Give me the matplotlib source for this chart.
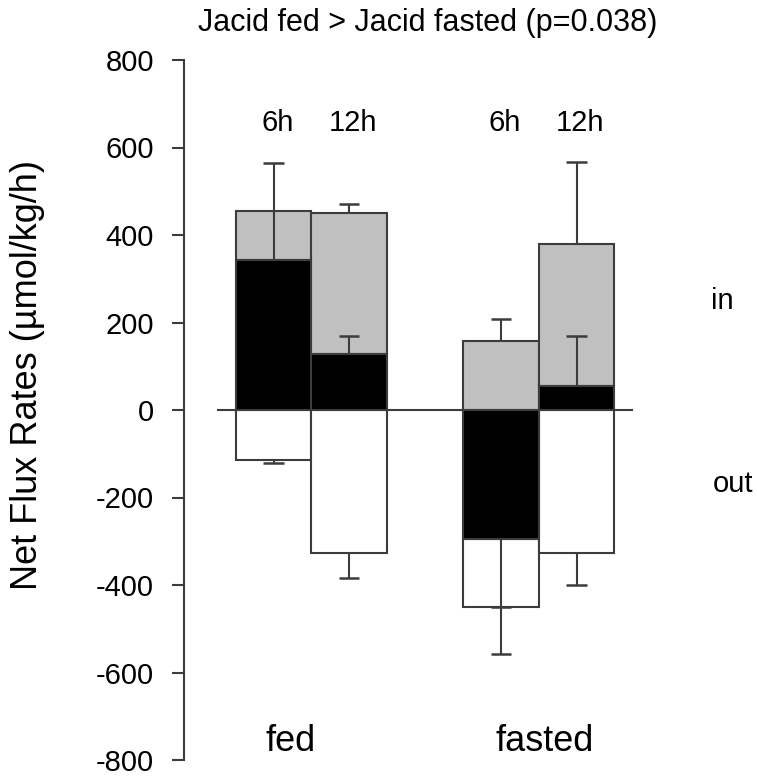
import matplotlib
matplotlib.use('Agg')
import matplotlib.pyplot as plt
import numpy as np

plt.rcParams['font.family'] = ['Liberation Sans', 'DejaVu Sans']
plt.rcParams['axes.unicode_minus'] = False

# bars: fed 6h, fed 12h, fasted 6h, fasted 12h
groups = ['fed', 'fasted']
times = ['6h', '12h', '6h', '12h']
pos = [0, 1, 3, 4]

net = [342, 127, -295, 56]          # black bars
net_err = [223, 42, 155, 113]
in_top = [456, 450, 158, 379]       # grey bars (influx)
in_err = [0, 20, 49, 189]
out = [-115, -326, -450, -326]      # white bars (efflux)
out_err = [6, 59, 107, 74]

edge = '#3c3c3c'

fig = plt.figure(figsize=(7.57, 7.78), dpi=100)
ax = fig.add_axes([184 / 757, 18 / 778, (740 - 184) / 757, (760 - 60) / 778])

pos = np.array(pos)
net = np.array(net)
in_top = np.array(in_top)
out = np.array(out)

# white (out) bars start at the lower end of the black bar
white_top = np.minimum(net, 0)
ax.bar(pos, out - white_top, bottom=white_top, width=1, color='white',
       edgecolor=edge, linewidth=1.5, zorder=2)
ax.bar(pos, net, width=1, color='black', edgecolor=edge, linewidth=1.5, zorder=3)
grey_bot = np.maximum(net, 0)
ax.bar(pos, in_top - grey_bot, bottom=grey_bot, width=1, color='#c0c0c0',
       edgecolor=edge, linewidth=1.5, zorder=2)


def err(x, y0, e):
    # one-sided error bar, away from zero
    if e == 0:
        return
    y1 = y0 + e if y0 > 0 else y0 - e
    ax.vlines(x, y0, y1, color=edge, linewidth=1.5, zorder=4)
    ax.hlines(y1, x - 0.135, x + 0.135, color=edge, linewidth=1.8, zorder=4)


for i in range(4):
    err(pos[i], net[i], net_err[i])
    err(pos[i], in_top[i], in_err[i])
    err(pos[i], out[i], out_err[i])

ax.hlines(0, -0.74, 4.75, color=edge, linewidth=1.5, zorder=1)

ax.set_xlim((184 - 273.5) / 75.75, (740 - 273.5) / 75.75)
ax.set_ylim(-800, 800)
ax.set_yticks(np.arange(-800, 801, 200))
ax.tick_params(axis='y', labelsize=21, length=8.5, width=1.5, color=edge, pad=13)
ax.set_xticks([])
for s in ['top', 'right', 'bottom']:
    ax.spines[s].set_visible(False)
ax.spines['left'].set_color(edge)
ax.spines['left'].set_linewidth(1.5)

fig.text(28 / 757, 1 - 375 / 778, 'Net Flux Rates (µmol/kg/h)', rotation=90,
         ha='center', va='center', fontsize=26)

for p, t in zip(pos, times):
    ax.text(p + 0.05, 656, t, ha='center', va='center', fontsize=21)
ax.text(0.22, -757, groups[0], ha='center', va='center', fontsize=26)
ax.text(3.58, -757, groups[1], ha='center', va='center', fontsize=26)
ax.text(5.93, 250, 'in', ha='center', va='center', fontsize=21)
ax.text(6.07, -170, 'out', ha='center', va='center', fontsize=21)

fig.text(428 / 757, 1 - 23 / 778, 'Jacid fed > Jacid fasted (p=0.038)',
         ha='center', va='center', fontsize=22)

fig.savefig('out.png', dpi=100)
